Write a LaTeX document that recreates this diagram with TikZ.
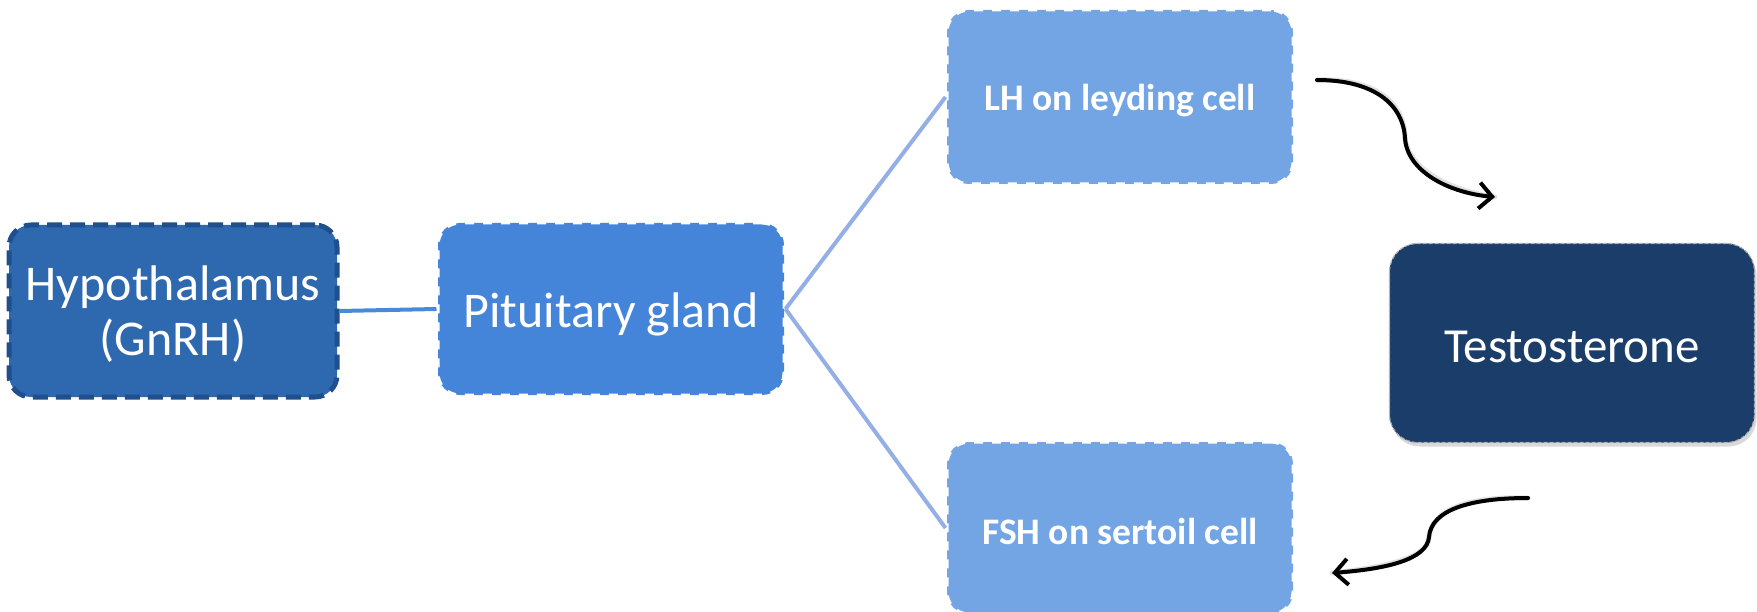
\documentclass[tikz,border=0pt]{standalone}
\usepackage{fontspec}
\setmainfont{Carlito}
\usetikzlibrary{arrows.meta,shadows}
\definecolor{hypfill}{HTML}{2E69B0}
\definecolor{hypdraw}{HTML}{1F4F8C}
\definecolor{pitfill}{HTML}{4485DA}
\definecolor{cellfill}{HTML}{73A4E3}
\definecolor{tesfill}{HTML}{1A3D6A}
\definecolor{linkA}{HTML}{4A88D8}
\definecolor{linkB}{HTML}{94AEE6}
\newcommand\shiftdown[2]{\raisebox{-#1}[\height][\depth]{#2}}
\tikzset{
  boxbase/.style={rectangle, rounded corners=22pt, align=center, text=white, inner sep=0pt},
  hypbox/.style={boxbase, fill=hypfill, draw=hypdraw, line width=5pt, dash pattern=on 15pt off 8pt, font=\fontsize{50}{55}\selectfont},
  pitbox/.style={boxbase, fill=pitfill, draw=white, line width=3pt, dash pattern=on 9pt off 9pt, font=\fontsize{50}{58}\selectfont},
  cellbox/.style={boxbase, fill=cellfill, draw=white, line width=3pt, dash pattern=on 9pt off 9pt, font=\bfseries\fontsize{37.5}{44}\selectfont},
  tesbox/.style={boxbase, rounded corners=28pt, fill=tesfill, draw=gray!60, line width=1.2pt, dash pattern=on 4pt off 2pt, font=\fontsize{49}{56}\selectfont,
     drop shadow={shadow xshift=2pt, shadow yshift=-4pt, opacity=0.3}},
  linkline/.style={line width=4pt},
  curvearrow/.style={line width=4pt, line cap=round, -{Straight Barb[length=13pt,width=26pt,line width=4pt]}},
  arrowshadow/.style={line width=5pt, line cap=round, draw=black, opacity=0.12},
}
\begin{document}
\begin{tikzpicture}[x=1pt,y=-1pt]
\useasboundingbox (0,0) rectangle (1757,612);
\node[hypbox, minimum width=328pt, minimum height=172pt] (hyp) at (173,311) {\shiftdown{6pt}{\begin{tabular}{@{}c@{}}Hypothalamus\\(GnRH)\end{tabular}}};
\node[pitbox, minimum width=346pt, minimum height=172pt] (pit) at (611,309) {\shiftdown{5pt}{Pituitary gland}};
\node[cellbox, minimum width=346pt, minimum height=174pt] (lh) at (1120,97) {\shiftdown{4pt}{LH on leyding cell}};
\node[cellbox, minimum width=346pt, minimum height=172pt] (fsh) at (1120,528) {\shiftdown{3pt}{FSH on sertoil cell}};
\node[tesbox, minimum width=365pt, minimum height=199pt] (tes) at (1572,343) {\shiftdown{4pt}{Testosterone}};

\draw[linkline, draw=linkA] (hyp.east) -- (pit.west);
\draw[linkline, draw=linkB] (pit.east) -- (lh.west);
\draw[linkline, draw=linkB] (pit.east) -- (fsh.west);

\coordinate (a1s) at (1317,80);
\coordinate (a1m) at (1405,138);
\coordinate (a1e) at (1495,197);
\coordinate (a2s) at (1528,498);
\coordinate (a2m) at (1429,537);
\coordinate (a2e) at (1332,573);

\begin{scope}[xshift=1.5pt,yshift=2pt]
\draw[arrowshadow] (a1s) .. controls (1375,80) and (1403,105) .. (a1m) .. controls (1407,172) and (1450,193) .. (a1e);
\draw[arrowshadow] (a2s) .. controls (1470,498) and (1431,510) .. (a2m) .. controls (1427,560) and (1385,569) .. (a2e);
\end{scope}
\draw[curvearrow] (a1s) .. controls (1375,80) and (1403,105) .. (a1m) .. controls (1407,172) and (1450,193) .. (a1e);
\draw[curvearrow] (a2s) .. controls (1470,498) and (1431,510) .. (a2m) .. controls (1427,560) and (1385,569) .. (a2e);
\end{tikzpicture}
\end{document}
